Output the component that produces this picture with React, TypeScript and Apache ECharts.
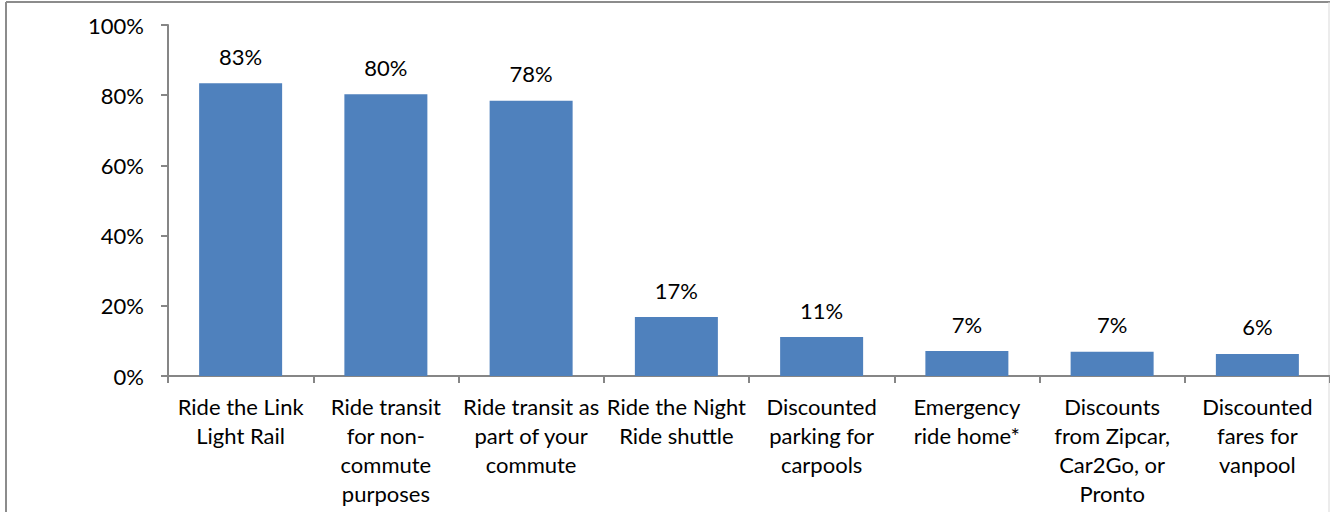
import React, { useEffect, useRef } from "react";
import * as echarts from "echarts";

const categories = [
  "Ride the Link\nLight Rail",
  "Ride transit\nfor non-\ncommute\npurposes",
  "Ride transit as\npart of your\ncommute",
  "Ride the Night\nRide shuttle",
  "Discounted\nparking for\ncarpools",
  "Emergency\nride home*",
  "Discounts\nfrom Zipcar,\nCar2Go, or\nPronto",
  "Discounted\nfares for\nvanpool",
];
const values = [0.834, 0.803, 0.784, 0.168, 0.111, 0.071, 0.069, 0.063];
const yTicks = [0, 0.2, 0.4, 0.6, 0.8, 1.0];

const FONT = "Lato, 'Open Sans', sans-serif";

export default function App() {
  const ref = useRef<HTMLDivElement>(null);
  useEffect(() => {
    if (!ref.current) return;
    const chart = echarts.init(ref.current, undefined, { renderer: "svg" });
    chart.setOption({
      animation: false,
      backgroundColor: "#ffffff",
      grid: { left: 168, top: 25, width: 1165, height: 351, containLabel: false },
      xAxis: {
        type: "category",
        data: categories,
        axisLine: { show: true, lineStyle: { color: "#868686", width: 2 } },
        axisTick: { show: true, length: 7, alignWithLabel: false, lineStyle: { color: "#868686", width: 2 } },
        axisLabel: {
          interval: 0,
          color: "#000",
          fontFamily: FONT,
          fontSize: 22,
          lineHeight: 29,
          margin: 16,
          verticalAlign: "top",
        },
        splitLine: { show: false },
      },
      yAxis: {
        type: "value",
        min: yTicks[0],
        max: yTicks[yTicks.length - 1],
        interval: 0.2,
        axisLine: { show: true, lineStyle: { color: "#868686", width: 2 } },
        axisTick: { show: true, length: 7, lineStyle: { color: "#868686", width: 2 } },
        axisLabel: {
          color: "#000",
          fontFamily: FONT,
          fontSize: 22,
          margin: 24,
          formatter: (v: number) => `${Math.round(v * 100)}%`,
        },
        splitLine: { show: false },
      },
      series: [
        {
          type: "bar",
          data: values,
          barWidth: 83,
          itemStyle: { color: "#4F81BD" },
          label: {
            show: true,
            position: "top",
            distance: 16,
            color: "#000",
            fontFamily: FONT,
            fontSize: 22,
            formatter: (p: any) => `${Math.round(p.value * 100)}%`,
          },
        },
      ],
      graphic: [
        { type: "line", shape: { x1: 6, y1: 2, x2: 1330, y2: 2 }, style: { stroke: "#8c8c8c", lineWidth: 2 } },
        { type: "line", shape: { x1: 6, y1: 2, x2: 6, y2: 512 }, style: { stroke: "#8c8c8c", lineWidth: 2 } },
        { type: "line", shape: { x1: 1329, y1: 2, x2: 1329, y2: 512 }, style: { stroke: "#d9d9d9", lineWidth: 1 } },
      ],
    });
    return () => chart.dispose();
  }, []);
  return (
    <div
      ref={ref}
      style={{ position: "fixed", left: 0, top: 0, width: 1330, height: 512 }}
    />
  );
}
